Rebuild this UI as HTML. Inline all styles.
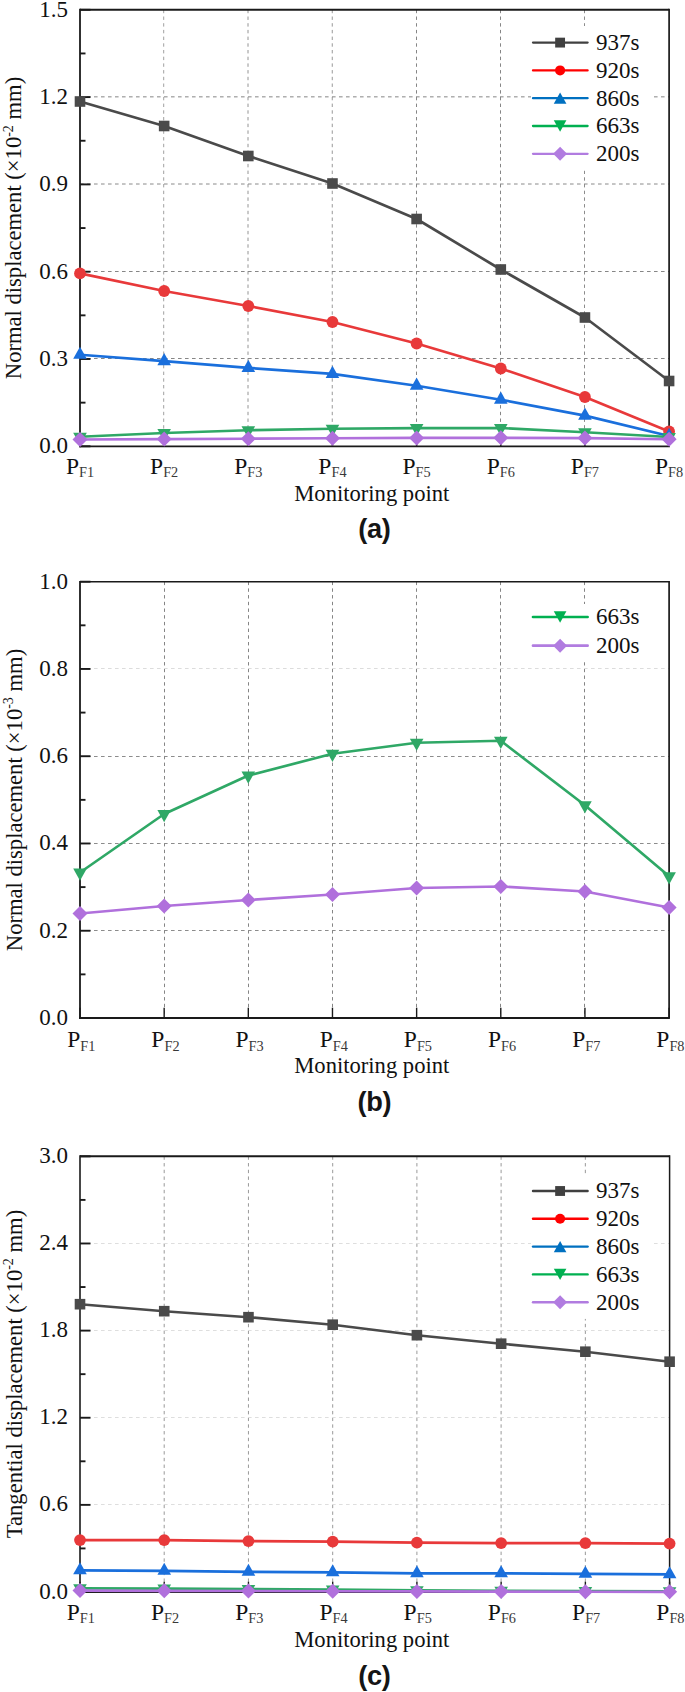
<!DOCTYPE html>
<html lang="en">
<head>
<meta charset="utf-8">
<title>Displacement at monitoring points</title>
<style>
html,body{margin:0;padding:0;background:#fff;}
body{width:685px;height:1692px;overflow:hidden;}
svg{display:block;}
.t,.p,.ti{font-family:"Liberation Serif","Times New Roman",serif;font-size:23px;fill:#111;}
.p{font-size:23.5px;}
.ti{font-size:22.6px;}
.sub{font-size:14.3px;fill:#383838;}
.sup{font-size:14px;}
.cap{font-family:"Liberation Sans",Arial,sans-serif;font-weight:bold;font-size:27.2px;fill:#151515;letter-spacing:-0.3px;}
</style>
</head>
<body>
<svg width="685" height="1692" viewBox="0 0 685 1692">
<rect width="685" height="1692" fill="#fff"/>
<line x1="163.70" y1="9.80" x2="163.70" y2="446.30" stroke="#a0a0a0" stroke-width="1" stroke-dasharray="3.4 3.3"/>
<line x1="248.00" y1="9.80" x2="248.00" y2="446.30" stroke="#949494" stroke-width="1" stroke-dasharray="3.4 3.3"/>
<line x1="332.25" y1="9.80" x2="332.25" y2="446.30" stroke="#989898" stroke-width="1" stroke-dasharray="3.4 3.3"/>
<line x1="416.50" y1="9.80" x2="416.50" y2="446.30" stroke="#868686" stroke-width="1" stroke-dasharray="3.4 3.3"/>
<line x1="500.50" y1="9.80" x2="500.50" y2="446.30" stroke="#868686" stroke-width="1" stroke-dasharray="3.4 3.3"/>
<line x1="584.50" y1="9.80" x2="584.50" y2="446.30" stroke="#8c8c8c" stroke-width="1" stroke-dasharray="3.4 3.3"/>
<line x1="80.00" y1="96.85" x2="669.10" y2="96.85" stroke="#868686" stroke-width="1" stroke-dasharray="3.6 3.4"/>
<line x1="80.00" y1="184.00" x2="669.10" y2="184.00" stroke="#8a8a8a" stroke-width="1" stroke-dasharray="3.6 3.4"/>
<line x1="80.00" y1="271.50" x2="669.10" y2="271.50" stroke="#868686" stroke-width="1" stroke-dasharray="3.6 3.4"/>
<line x1="80.00" y1="358.50" x2="669.10" y2="358.50" stroke="#868686" stroke-width="1" stroke-dasharray="3.6 3.4"/>
<path d="M80.00,9.80 H669.10" fill="none" stroke="#1a1a1a" stroke-width="2.0"/>
<path d="M669.10,8.80 V446.30" fill="none" stroke="#1a1a1a" stroke-width="1.7"/>
<path d="M80.00,8.80 V447.20" fill="none" stroke="#1a1a1a" stroke-width="1.8"/>
<path d="M79.10,446.30 H669.90" fill="none" stroke="#1a1a1a" stroke-width="1.8"/>
<line x1="80.00" y1="9.80" x2="90.50" y2="9.80" stroke="#1a1a1a" stroke-width="1.9"/>
<line x1="80.00" y1="53.45" x2="85.50" y2="53.45" stroke="#1a1a1a" stroke-width="1.9"/>
<line x1="80.00" y1="97.10" x2="90.50" y2="97.10" stroke="#1a1a1a" stroke-width="1.9"/>
<line x1="80.00" y1="140.75" x2="85.50" y2="140.75" stroke="#1a1a1a" stroke-width="1.9"/>
<line x1="80.00" y1="184.40" x2="90.50" y2="184.40" stroke="#1a1a1a" stroke-width="1.9"/>
<line x1="80.00" y1="228.05" x2="85.50" y2="228.05" stroke="#1a1a1a" stroke-width="1.9"/>
<line x1="80.00" y1="271.70" x2="90.50" y2="271.70" stroke="#1a1a1a" stroke-width="1.9"/>
<line x1="80.00" y1="315.35" x2="85.50" y2="315.35" stroke="#1a1a1a" stroke-width="1.9"/>
<line x1="80.00" y1="359.00" x2="90.50" y2="359.00" stroke="#1a1a1a" stroke-width="1.9"/>
<line x1="80.00" y1="402.65" x2="85.50" y2="402.65" stroke="#1a1a1a" stroke-width="1.9"/>
<line x1="80.00" y1="446.30" x2="90.50" y2="446.30" stroke="#1a1a1a" stroke-width="1.9"/>
<line x1="80.00" y1="446.30" x2="80.00" y2="436.00" stroke="#1a1a1a" stroke-width="1.4"/>
<line x1="164.16" y1="446.30" x2="164.16" y2="436.00" stroke="#1a1a1a" stroke-width="1.4"/>
<line x1="248.31" y1="446.30" x2="248.31" y2="436.00" stroke="#1a1a1a" stroke-width="1.4"/>
<line x1="332.47" y1="446.30" x2="332.47" y2="436.00" stroke="#1a1a1a" stroke-width="1.4"/>
<line x1="416.63" y1="446.30" x2="416.63" y2="436.00" stroke="#1a1a1a" stroke-width="1.4"/>
<line x1="500.79" y1="446.30" x2="500.79" y2="436.00" stroke="#1a1a1a" stroke-width="1.4"/>
<line x1="584.94" y1="446.30" x2="584.94" y2="436.00" stroke="#1a1a1a" stroke-width="1.4"/>
<line x1="669.10" y1="446.30" x2="669.10" y2="436.00" stroke="#1a1a1a" stroke-width="1.4"/>
<text x="68.1" y="16.60" text-anchor="end" class="t">1.5</text>
<text x="68.1" y="103.90" text-anchor="end" class="t">1.2</text>
<text x="68.1" y="191.20" text-anchor="end" class="t">0.9</text>
<text x="68.1" y="278.50" text-anchor="end" class="t">0.6</text>
<text x="68.1" y="365.80" text-anchor="end" class="t">0.3</text>
<text x="68.1" y="453.10" text-anchor="end" class="t">0.0</text>
<text x="65.90" y="473.80" class="p">P<tspan class="sub" dy="3.2">F1</tspan></text>
<text x="150.06" y="473.80" class="p">P<tspan class="sub" dy="3.2">F2</tspan></text>
<text x="234.21" y="473.80" class="p">P<tspan class="sub" dy="3.2">F3</tspan></text>
<text x="318.37" y="473.80" class="p">P<tspan class="sub" dy="3.2">F4</tspan></text>
<text x="402.53" y="473.80" class="p">P<tspan class="sub" dy="3.2">F5</tspan></text>
<text x="486.69" y="473.80" class="p">P<tspan class="sub" dy="3.2">F6</tspan></text>
<text x="570.84" y="473.80" class="p">P<tspan class="sub" dy="3.2">F7</tspan></text>
<text x="655.00" y="473.80" class="p">P<tspan class="sub" dy="3.2">F8</tspan></text>
<text x="371.8" y="500.80" text-anchor="middle" class="ti">Monitoring point</text>
<text transform="translate(21.3,228.00) rotate(-90)" text-anchor="middle" class="ti">Normal displacement (×10<tspan class="sup" dy="-8.8">-2</tspan><tspan dy="8.8"> mm)</tspan></text>
<polyline points="80.00,101.50 164.16,126.00 248.31,156.00 332.47,183.50 416.63,219.00 500.79,269.50 584.94,317.50 669.10,381.00" fill="none" stroke="#4a4a4a" stroke-width="2.65" stroke-linejoin="round"/>
<rect x="74.70" y="96.20" width="10.60" height="10.60" fill="#4a4a4a"/>
<rect x="158.86" y="120.70" width="10.60" height="10.60" fill="#4a4a4a"/>
<rect x="243.01" y="150.70" width="10.60" height="10.60" fill="#4a4a4a"/>
<rect x="327.17" y="178.20" width="10.60" height="10.60" fill="#4a4a4a"/>
<rect x="411.33" y="213.70" width="10.60" height="10.60" fill="#4a4a4a"/>
<rect x="495.49" y="264.20" width="10.60" height="10.60" fill="#4a4a4a"/>
<rect x="579.64" y="312.20" width="10.60" height="10.60" fill="#4a4a4a"/>
<rect x="663.80" y="375.70" width="10.60" height="10.60" fill="#4a4a4a"/>
<polyline points="80.00,273.40 164.16,291.00 248.31,306.00 332.47,322.00 416.63,343.50 500.79,368.50 584.94,397.00 669.10,431.50" fill="none" stroke="#e8393a" stroke-width="2.65" stroke-linejoin="round"/>
<circle cx="80.00" cy="273.40" r="5.90" fill="#e8393a"/>
<circle cx="164.16" cy="291.00" r="5.90" fill="#e8393a"/>
<circle cx="248.31" cy="306.00" r="5.90" fill="#e8393a"/>
<circle cx="332.47" cy="322.00" r="5.90" fill="#e8393a"/>
<circle cx="416.63" cy="343.50" r="5.90" fill="#e8393a"/>
<circle cx="500.79" cy="368.50" r="5.90" fill="#e8393a"/>
<circle cx="584.94" cy="397.00" r="5.90" fill="#e8393a"/>
<circle cx="669.10" cy="431.50" r="5.90" fill="#e8393a"/>
<polyline points="80.00,354.80 164.16,361.10 248.31,367.90 332.47,373.90 416.63,385.70 500.79,399.70 584.94,415.60 669.10,436.00" fill="none" stroke="#1a6fdc" stroke-width="2.65" stroke-linejoin="round"/>
<polygon points="80.00,346.67 86.80,358.87 73.20,358.87" fill="#1a6fdc"/>
<polygon points="164.16,352.97 170.96,365.17 157.36,365.17" fill="#1a6fdc"/>
<polygon points="248.31,359.77 255.11,371.97 241.51,371.97" fill="#1a6fdc"/>
<polygon points="332.47,365.77 339.27,377.97 325.67,377.97" fill="#1a6fdc"/>
<polygon points="416.63,377.57 423.43,389.77 409.83,389.77" fill="#1a6fdc"/>
<polygon points="500.79,391.57 507.59,403.77 493.99,403.77" fill="#1a6fdc"/>
<polygon points="584.94,407.47 591.74,419.67 578.14,419.67" fill="#1a6fdc"/>
<polygon points="669.10,427.87 675.90,440.07 662.30,440.07" fill="#1a6fdc"/>
<polyline points="80.00,436.80 164.16,433.00 248.31,430.30 332.47,428.80 416.63,428.10 500.79,428.00 584.94,432.30 669.10,437.00" fill="none" stroke="#2fa866" stroke-width="2.65" stroke-linejoin="round"/>
<polygon points="80.00,444.93 86.80,432.73 73.20,432.73" fill="#2fa866"/>
<polygon points="164.16,441.13 170.96,428.93 157.36,428.93" fill="#2fa866"/>
<polygon points="248.31,438.43 255.11,426.23 241.51,426.23" fill="#2fa866"/>
<polygon points="332.47,436.93 339.27,424.73 325.67,424.73" fill="#2fa866"/>
<polygon points="416.63,436.23 423.43,424.03 409.83,424.03" fill="#2fa866"/>
<polygon points="500.79,436.13 507.59,423.93 493.99,423.93" fill="#2fa866"/>
<polygon points="584.94,440.43 591.74,428.23 578.14,428.23" fill="#2fa866"/>
<polygon points="669.10,445.13 675.90,432.93 662.30,432.93" fill="#2fa866"/>
<polyline points="80.00,439.50 164.16,439.10 248.31,438.70 332.47,438.30 416.63,437.90 500.79,437.80 584.94,438.10 669.10,439.20" fill="none" stroke="#b070dc" stroke-width="2.65" stroke-linejoin="round"/>
<polygon points="80.00,432.00 87.50,439.50 80.00,447.00 72.50,439.50" fill="#b070dc"/>
<polygon points="164.16,431.60 171.66,439.10 164.16,446.60 156.66,439.10" fill="#b070dc"/>
<polygon points="248.31,431.20 255.81,438.70 248.31,446.20 240.81,438.70" fill="#b070dc"/>
<polygon points="332.47,430.80 339.97,438.30 332.47,445.80 324.97,438.30" fill="#b070dc"/>
<polygon points="416.63,430.40 424.13,437.90 416.63,445.40 409.13,437.90" fill="#b070dc"/>
<polygon points="500.79,430.30 508.29,437.80 500.79,445.30 493.29,437.80" fill="#b070dc"/>
<polygon points="584.94,430.60 592.44,438.10 584.94,445.60 577.44,438.10" fill="#b070dc"/>
<polygon points="669.10,431.70 676.60,439.20 669.10,446.70 661.60,439.20" fill="#b070dc"/>
<rect x="531" y="26.00" width="120" height="144.50" fill="#fff"/>
<line x1="533" y1="42.60" x2="587.6" y2="42.60" stroke="#404040" stroke-width="2.3" stroke-linecap="round"/>
<rect x="555.17" y="37.67" width="9.86" height="9.86" fill="#404040"/>
<text x="595.9" y="49.90" class="t">937s</text>
<line x1="533" y1="70.40" x2="587.6" y2="70.40" stroke="#ff0000" stroke-width="2.3" stroke-linecap="round"/>
<circle cx="560.10" cy="70.40" r="5.02" fill="#ff0000"/>
<text x="595.9" y="77.70" class="t">920s</text>
<line x1="533" y1="98.20" x2="587.6" y2="98.20" stroke="#0070c0" stroke-width="2.3" stroke-linecap="round"/>
<polygon points="560.10,92.53 566.42,103.87 553.78,103.87" fill="#0070c0"/>
<text x="595.9" y="105.50" class="t">860s</text>
<line x1="533" y1="126.00" x2="587.6" y2="126.00" stroke="#00b050" stroke-width="2.3" stroke-linecap="round"/>
<polygon points="560.10,131.67 566.42,120.33 553.78,120.33" fill="#00b050"/>
<text x="595.9" y="133.30" class="t">663s</text>
<line x1="533" y1="153.80" x2="587.6" y2="153.80" stroke="#b17ce0" stroke-width="2.3" stroke-linecap="round"/>
<polygon points="560.10,146.83 567.08,153.80 560.10,160.78 553.12,153.80" fill="#b17ce0"/>
<text x="595.9" y="161.10" class="t">200s</text>
<text x="374.4" y="537.90" text-anchor="middle" class="cap">(a)</text>
<line x1="164.50" y1="581.70" x2="164.50" y2="1018.00" stroke="#858585" stroke-width="1" stroke-dasharray="3.4 3.3"/>
<line x1="248.50" y1="581.70" x2="248.50" y2="1018.00" stroke="#858585" stroke-width="1" stroke-dasharray="3.4 3.3"/>
<line x1="332.50" y1="581.70" x2="332.50" y2="1018.00" stroke="#858585" stroke-width="1" stroke-dasharray="3.4 3.3"/>
<line x1="416.50" y1="581.70" x2="416.50" y2="1018.00" stroke="#858585" stroke-width="1" stroke-dasharray="3.4 3.3"/>
<line x1="500.50" y1="581.70" x2="500.50" y2="1018.00" stroke="#858585" stroke-width="1" stroke-dasharray="3.4 3.3"/>
<line x1="584.50" y1="581.70" x2="584.50" y2="1018.00" stroke="#858585" stroke-width="1" stroke-dasharray="3.4 3.3"/>
<line x1="80.00" y1="668.50" x2="669.10" y2="668.50" stroke="#dcdcdc" stroke-width="1" stroke-dasharray="3.6 3.4"/>
<line x1="80.00" y1="756.50" x2="669.10" y2="756.50" stroke="#8c8c8c" stroke-width="1" stroke-dasharray="3.6 3.4"/>
<line x1="80.00" y1="843.50" x2="669.10" y2="843.50" stroke="#8c8c8c" stroke-width="1" stroke-dasharray="3.6 3.4"/>
<line x1="80.00" y1="930.50" x2="669.10" y2="930.50" stroke="#8c8c8c" stroke-width="1" stroke-dasharray="3.6 3.4"/>
<path d="M80.00,581.70 H669.10" fill="none" stroke="#1a1a1a" stroke-width="1.5"/>
<path d="M669.10,580.95 V1018.00" fill="none" stroke="#1a1a1a" stroke-width="1.7"/>
<path d="M80.00,580.95 V1018.90" fill="none" stroke="#1a1a1a" stroke-width="1.8"/>
<path d="M79.10,1018.00 H669.90" fill="none" stroke="#1a1a1a" stroke-width="1.8"/>
<line x1="80.00" y1="581.70" x2="90.50" y2="581.70" stroke="#1a1a1a" stroke-width="1.9"/>
<line x1="80.00" y1="625.33" x2="85.50" y2="625.33" stroke="#1a1a1a" stroke-width="1.9"/>
<line x1="80.00" y1="668.96" x2="90.50" y2="668.96" stroke="#1a1a1a" stroke-width="1.9"/>
<line x1="80.00" y1="712.59" x2="85.50" y2="712.59" stroke="#1a1a1a" stroke-width="1.9"/>
<line x1="80.00" y1="756.22" x2="90.50" y2="756.22" stroke="#1a1a1a" stroke-width="1.9"/>
<line x1="80.00" y1="799.85" x2="85.50" y2="799.85" stroke="#1a1a1a" stroke-width="1.9"/>
<line x1="80.00" y1="843.48" x2="90.50" y2="843.48" stroke="#1a1a1a" stroke-width="1.9"/>
<line x1="80.00" y1="887.11" x2="85.50" y2="887.11" stroke="#1a1a1a" stroke-width="1.9"/>
<line x1="80.00" y1="930.74" x2="90.50" y2="930.74" stroke="#1a1a1a" stroke-width="1.9"/>
<line x1="80.00" y1="974.37" x2="85.50" y2="974.37" stroke="#1a1a1a" stroke-width="1.9"/>
<line x1="80.00" y1="1018.00" x2="90.50" y2="1018.00" stroke="#1a1a1a" stroke-width="1.9"/>
<line x1="80.00" y1="1018.00" x2="80.00" y2="1007.70" stroke="#1a1a1a" stroke-width="1.4"/>
<line x1="164.16" y1="1018.00" x2="164.16" y2="1007.70" stroke="#1a1a1a" stroke-width="1.4"/>
<line x1="248.31" y1="1018.00" x2="248.31" y2="1007.70" stroke="#1a1a1a" stroke-width="1.4"/>
<line x1="332.47" y1="1018.00" x2="332.47" y2="1007.70" stroke="#1a1a1a" stroke-width="1.4"/>
<line x1="416.63" y1="1018.00" x2="416.63" y2="1007.70" stroke="#1a1a1a" stroke-width="1.4"/>
<line x1="500.79" y1="1018.00" x2="500.79" y2="1007.70" stroke="#1a1a1a" stroke-width="1.4"/>
<line x1="584.94" y1="1018.00" x2="584.94" y2="1007.70" stroke="#1a1a1a" stroke-width="1.4"/>
<line x1="669.10" y1="1018.00" x2="669.10" y2="1007.70" stroke="#1a1a1a" stroke-width="1.4"/>
<text x="68.1" y="588.50" text-anchor="end" class="t">1.0</text>
<text x="68.1" y="675.76" text-anchor="end" class="t">0.8</text>
<text x="68.1" y="763.02" text-anchor="end" class="t">0.6</text>
<text x="68.1" y="850.28" text-anchor="end" class="t">0.4</text>
<text x="68.1" y="937.54" text-anchor="end" class="t">0.2</text>
<text x="68.1" y="1024.80" text-anchor="end" class="t">0.0</text>
<text x="67.20" y="1047.30" class="p">P<tspan class="sub" dy="3.2">F1</tspan></text>
<text x="151.36" y="1047.30" class="p">P<tspan class="sub" dy="3.2">F2</tspan></text>
<text x="235.51" y="1047.30" class="p">P<tspan class="sub" dy="3.2">F3</tspan></text>
<text x="319.67" y="1047.30" class="p">P<tspan class="sub" dy="3.2">F4</tspan></text>
<text x="403.83" y="1047.30" class="p">P<tspan class="sub" dy="3.2">F5</tspan></text>
<text x="487.99" y="1047.30" class="p">P<tspan class="sub" dy="3.2">F6</tspan></text>
<text x="572.14" y="1047.30" class="p">P<tspan class="sub" dy="3.2">F7</tspan></text>
<text x="656.30" y="1047.30" class="p">P<tspan class="sub" dy="3.2">F8</tspan></text>
<text x="371.8" y="1073.10" text-anchor="middle" class="ti">Monitoring point</text>
<text transform="translate(21.7,800.00) rotate(-90)" text-anchor="middle" class="ti">Normal displacement (×10<tspan class="sup" dy="-8.8">-3</tspan><tspan dy="8.8"> mm)</tspan></text>
<polyline points="80.00,872.50 164.16,814.00 248.31,775.50 332.47,753.80 416.63,742.70 500.79,740.80 584.94,805.30 669.10,876.30" fill="none" stroke="#2fa866" stroke-width="2.65" stroke-linejoin="round"/>
<polygon points="80.00,880.63 86.80,868.43 73.20,868.43" fill="#2fa866"/>
<polygon points="164.16,822.13 170.96,809.93 157.36,809.93" fill="#2fa866"/>
<polygon points="248.31,783.63 255.11,771.43 241.51,771.43" fill="#2fa866"/>
<polygon points="332.47,761.93 339.27,749.73 325.67,749.73" fill="#2fa866"/>
<polygon points="416.63,750.83 423.43,738.63 409.83,738.63" fill="#2fa866"/>
<polygon points="500.79,748.93 507.59,736.73 493.99,736.73" fill="#2fa866"/>
<polygon points="584.94,813.43 591.74,801.23 578.14,801.23" fill="#2fa866"/>
<polygon points="669.10,884.43 675.90,872.23 662.30,872.23" fill="#2fa866"/>
<polyline points="80.00,913.50 164.16,906.00 248.31,900.00 332.47,894.50 416.63,888.00 500.79,886.50 584.94,891.50 669.10,907.50" fill="none" stroke="#b070dc" stroke-width="2.65" stroke-linejoin="round"/>
<polygon points="80.00,906.00 87.50,913.50 80.00,921.00 72.50,913.50" fill="#b070dc"/>
<polygon points="164.16,898.50 171.66,906.00 164.16,913.50 156.66,906.00" fill="#b070dc"/>
<polygon points="248.31,892.50 255.81,900.00 248.31,907.50 240.81,900.00" fill="#b070dc"/>
<polygon points="332.47,887.00 339.97,894.50 332.47,902.00 324.97,894.50" fill="#b070dc"/>
<polygon points="416.63,880.50 424.13,888.00 416.63,895.50 409.13,888.00" fill="#b070dc"/>
<polygon points="500.79,879.00 508.29,886.50 500.79,894.00 493.29,886.50" fill="#b070dc"/>
<polygon points="584.94,884.00 592.44,891.50 584.94,899.00 577.44,891.50" fill="#b070dc"/>
<polygon points="669.10,900.00 676.60,907.50 669.10,915.00 661.60,907.50" fill="#b070dc"/>
<rect x="531" y="604.00" width="120" height="58.20" fill="#fff"/>
<line x1="533" y1="617.00" x2="587.6" y2="617.00" stroke="#00b050" stroke-width="2.7" stroke-linecap="round"/>
<polygon points="560.10,622.67 566.42,611.33 553.78,611.33" fill="#00b050"/>
<text x="595.9" y="624.30" class="t">663s</text>
<line x1="533" y1="645.70" x2="587.6" y2="645.70" stroke="#b17ce0" stroke-width="2.7" stroke-linecap="round"/>
<polygon points="560.10,638.73 567.08,645.70 560.10,652.68 553.12,645.70" fill="#b17ce0"/>
<text x="595.9" y="653.00" class="t">200s</text>
<text x="374.4" y="1111.20" text-anchor="middle" class="cap">(b)</text>
<line x1="164.20" y1="1156.35" x2="164.20" y2="1592.00" stroke="#999999" stroke-width="1" stroke-dasharray="3.4 3.3"/>
<line x1="248.45" y1="1156.35" x2="248.45" y2="1592.00" stroke="#999999" stroke-width="1" stroke-dasharray="3.4 3.3"/>
<line x1="332.70" y1="1156.35" x2="332.70" y2="1592.00" stroke="#999999" stroke-width="1" stroke-dasharray="3.4 3.3"/>
<line x1="416.90" y1="1156.35" x2="416.90" y2="1592.00" stroke="#999999" stroke-width="1" stroke-dasharray="3.4 3.3"/>
<line x1="501.10" y1="1156.35" x2="501.10" y2="1592.00" stroke="#999999" stroke-width="1" stroke-dasharray="3.4 3.3"/>
<line x1="585.35" y1="1156.35" x2="585.35" y2="1592.00" stroke="#999999" stroke-width="1" stroke-dasharray="3.4 3.3"/>
<line x1="80.00" y1="1243.50" x2="669.10" y2="1243.50" stroke="#dedede" stroke-width="1" stroke-dasharray="3.6 3.4"/>
<line x1="80.00" y1="1330.50" x2="669.10" y2="1330.50" stroke="#dedede" stroke-width="1" stroke-dasharray="3.6 3.4"/>
<line x1="80.00" y1="1417.50" x2="669.10" y2="1417.50" stroke="#dedede" stroke-width="1" stroke-dasharray="3.6 3.4"/>
<line x1="80.00" y1="1504.50" x2="669.10" y2="1504.50" stroke="#dedede" stroke-width="1" stroke-dasharray="3.6 3.4"/>
<path d="M80.00,1156.35 H669.60" fill="none" stroke="#1a1a1a" stroke-width="2.0"/>
<path d="M669.60,1155.35 V1592.00" fill="none" stroke="#1a1a1a" stroke-width="1.5"/>
<path d="M80.00,1155.35 V1592.90" fill="none" stroke="#1a1a1a" stroke-width="1.6"/>
<path d="M79.20,1592.00 H670.40" fill="none" stroke="#1a1a1a" stroke-width="1.8"/>
<line x1="80.00" y1="1156.35" x2="90.50" y2="1156.35" stroke="#1a1a1a" stroke-width="1.9"/>
<line x1="80.00" y1="1199.91" x2="85.50" y2="1199.91" stroke="#1a1a1a" stroke-width="1.9"/>
<line x1="80.00" y1="1243.48" x2="90.50" y2="1243.48" stroke="#1a1a1a" stroke-width="1.9"/>
<line x1="80.00" y1="1287.04" x2="85.50" y2="1287.04" stroke="#1a1a1a" stroke-width="1.9"/>
<line x1="80.00" y1="1330.61" x2="90.50" y2="1330.61" stroke="#1a1a1a" stroke-width="1.9"/>
<line x1="80.00" y1="1374.17" x2="85.50" y2="1374.17" stroke="#1a1a1a" stroke-width="1.9"/>
<line x1="80.00" y1="1417.74" x2="90.50" y2="1417.74" stroke="#1a1a1a" stroke-width="1.9"/>
<line x1="80.00" y1="1461.30" x2="85.50" y2="1461.30" stroke="#1a1a1a" stroke-width="1.9"/>
<line x1="80.00" y1="1504.87" x2="90.50" y2="1504.87" stroke="#1a1a1a" stroke-width="1.9"/>
<line x1="80.00" y1="1548.43" x2="85.50" y2="1548.43" stroke="#1a1a1a" stroke-width="1.9"/>
<line x1="80.00" y1="1592.00" x2="90.50" y2="1592.00" stroke="#1a1a1a" stroke-width="1.9"/>
<line x1="80.00" y1="1592.00" x2="80.00" y2="1581.70" stroke="#1a1a1a" stroke-width="1.4"/>
<line x1="164.23" y1="1592.00" x2="164.23" y2="1581.70" stroke="#1a1a1a" stroke-width="1.4"/>
<line x1="248.46" y1="1592.00" x2="248.46" y2="1581.70" stroke="#1a1a1a" stroke-width="1.4"/>
<line x1="332.69" y1="1592.00" x2="332.69" y2="1581.70" stroke="#1a1a1a" stroke-width="1.4"/>
<line x1="416.91" y1="1592.00" x2="416.91" y2="1581.70" stroke="#1a1a1a" stroke-width="1.4"/>
<line x1="501.14" y1="1592.00" x2="501.14" y2="1581.70" stroke="#1a1a1a" stroke-width="1.4"/>
<line x1="585.37" y1="1592.00" x2="585.37" y2="1581.70" stroke="#1a1a1a" stroke-width="1.4"/>
<line x1="669.60" y1="1592.00" x2="669.60" y2="1581.70" stroke="#1a1a1a" stroke-width="1.4"/>
<text x="68.1" y="1162.85" text-anchor="end" class="t">3.0</text>
<text x="68.1" y="1249.98" text-anchor="end" class="t">2.4</text>
<text x="68.1" y="1337.11" text-anchor="end" class="t">1.8</text>
<text x="68.1" y="1424.24" text-anchor="end" class="t">1.2</text>
<text x="68.1" y="1511.37" text-anchor="end" class="t">0.6</text>
<text x="68.1" y="1598.50" text-anchor="end" class="t">0.0</text>
<text x="66.70" y="1619.90" class="p">P<tspan class="sub" dy="3.2">F1</tspan></text>
<text x="150.93" y="1619.90" class="p">P<tspan class="sub" dy="3.2">F2</tspan></text>
<text x="235.16" y="1619.90" class="p">P<tspan class="sub" dy="3.2">F3</tspan></text>
<text x="319.39" y="1619.90" class="p">P<tspan class="sub" dy="3.2">F4</tspan></text>
<text x="403.61" y="1619.90" class="p">P<tspan class="sub" dy="3.2">F5</tspan></text>
<text x="487.84" y="1619.90" class="p">P<tspan class="sub" dy="3.2">F6</tspan></text>
<text x="572.07" y="1619.90" class="p">P<tspan class="sub" dy="3.2">F7</tspan></text>
<text x="656.30" y="1619.90" class="p">P<tspan class="sub" dy="3.2">F8</tspan></text>
<text x="371.8" y="1647.40" text-anchor="middle" class="ti">Monitoring point</text>
<text transform="translate(22.2,1374.00) rotate(-90)" text-anchor="middle" class="ti">Tangential displacement (×10<tspan class="sup" dy="-8.8">-2</tspan><tspan dy="8.8"> mm)</tspan></text>
<polyline points="80.00,1304.20 164.23,1311.20 248.46,1317.20 332.69,1324.70 416.91,1335.20 501.14,1343.70 585.37,1351.70 669.60,1361.70" fill="none" stroke="#4a4a4a" stroke-width="2.65" stroke-linejoin="round"/>
<rect x="74.70" y="1298.90" width="10.60" height="10.60" fill="#4a4a4a"/>
<rect x="158.93" y="1305.90" width="10.60" height="10.60" fill="#4a4a4a"/>
<rect x="243.16" y="1311.90" width="10.60" height="10.60" fill="#4a4a4a"/>
<rect x="327.39" y="1319.40" width="10.60" height="10.60" fill="#4a4a4a"/>
<rect x="411.61" y="1329.90" width="10.60" height="10.60" fill="#4a4a4a"/>
<rect x="495.84" y="1338.40" width="10.60" height="10.60" fill="#4a4a4a"/>
<rect x="580.07" y="1346.40" width="10.60" height="10.60" fill="#4a4a4a"/>
<rect x="664.30" y="1356.40" width="10.60" height="10.60" fill="#4a4a4a"/>
<polyline points="80.00,1540.10 164.23,1540.10 248.46,1541.10 332.69,1541.60 416.91,1542.60 501.14,1543.10 585.37,1543.10 669.60,1543.60" fill="none" stroke="#e8393a" stroke-width="2.65" stroke-linejoin="round"/>
<circle cx="80.00" cy="1540.10" r="5.90" fill="#e8393a"/>
<circle cx="164.23" cy="1540.10" r="5.90" fill="#e8393a"/>
<circle cx="248.46" cy="1541.10" r="5.90" fill="#e8393a"/>
<circle cx="332.69" cy="1541.60" r="5.90" fill="#e8393a"/>
<circle cx="416.91" cy="1542.60" r="5.90" fill="#e8393a"/>
<circle cx="501.14" cy="1543.10" r="5.90" fill="#e8393a"/>
<circle cx="585.37" cy="1543.10" r="5.90" fill="#e8393a"/>
<circle cx="669.60" cy="1543.60" r="5.90" fill="#e8393a"/>
<polyline points="80.00,1570.30 164.23,1570.80 248.46,1571.80 332.69,1572.30 416.91,1573.30 501.14,1573.30 585.37,1573.80 669.60,1574.30" fill="none" stroke="#1a6fdc" stroke-width="2.65" stroke-linejoin="round"/>
<polygon points="80.00,1562.17 86.80,1574.37 73.20,1574.37" fill="#1a6fdc"/>
<polygon points="164.23,1562.67 171.03,1574.87 157.43,1574.87" fill="#1a6fdc"/>
<polygon points="248.46,1563.67 255.26,1575.87 241.66,1575.87" fill="#1a6fdc"/>
<polygon points="332.69,1564.17 339.49,1576.37 325.89,1576.37" fill="#1a6fdc"/>
<polygon points="416.91,1565.17 423.71,1577.37 410.11,1577.37" fill="#1a6fdc"/>
<polygon points="501.14,1565.17 507.94,1577.37 494.34,1577.37" fill="#1a6fdc"/>
<polygon points="585.37,1565.67 592.17,1577.87 578.57,1577.87" fill="#1a6fdc"/>
<polygon points="669.60,1566.17 676.40,1578.37 662.80,1578.37" fill="#1a6fdc"/>
<polyline points="80.00,1588.40 164.23,1588.60 248.46,1589.00 332.69,1589.60 416.91,1590.20 501.14,1590.70 585.37,1591.00 669.60,1591.20" fill="none" stroke="#2fa866" stroke-width="2.65" stroke-linejoin="round"/>
<polygon points="80.00,1596.53 86.80,1584.33 73.20,1584.33" fill="#2fa866"/>
<polygon points="164.23,1596.73 171.03,1584.53 157.43,1584.53" fill="#2fa866"/>
<polygon points="248.46,1597.13 255.26,1584.93 241.66,1584.93" fill="#2fa866"/>
<polygon points="332.69,1597.73 339.49,1585.53 325.89,1585.53" fill="#2fa866"/>
<polygon points="416.91,1598.33 423.71,1586.13 410.11,1586.13" fill="#2fa866"/>
<polygon points="501.14,1598.83 507.94,1586.63 494.34,1586.63" fill="#2fa866"/>
<polygon points="585.37,1599.13 592.17,1586.93 578.57,1586.93" fill="#2fa866"/>
<polygon points="669.60,1599.33 676.40,1587.13 662.80,1587.13" fill="#2fa866"/>
<polyline points="80.00,1590.60 164.23,1590.80 248.46,1591.00 332.69,1591.20 416.91,1591.40 501.14,1591.60 585.37,1591.70 669.60,1591.80" fill="none" stroke="#b070dc" stroke-width="2.65" stroke-linejoin="round"/>
<polygon points="80.00,1583.10 87.50,1590.60 80.00,1598.10 72.50,1590.60" fill="#b070dc"/>
<polygon points="164.23,1583.30 171.73,1590.80 164.23,1598.30 156.73,1590.80" fill="#b070dc"/>
<polygon points="248.46,1583.50 255.96,1591.00 248.46,1598.50 240.96,1591.00" fill="#b070dc"/>
<polygon points="332.69,1583.70 340.19,1591.20 332.69,1598.70 325.19,1591.20" fill="#b070dc"/>
<polygon points="416.91,1583.90 424.41,1591.40 416.91,1598.90 409.41,1591.40" fill="#b070dc"/>
<polygon points="501.14,1584.10 508.64,1591.60 501.14,1599.10 493.64,1591.60" fill="#b070dc"/>
<polygon points="585.37,1584.20 592.87,1591.70 585.37,1599.20 577.87,1591.70" fill="#b070dc"/>
<polygon points="669.60,1584.30 677.10,1591.80 669.60,1599.30 662.10,1591.80" fill="#b070dc"/>
<rect x="531" y="1174.40" width="120" height="144.50" fill="#fff"/>
<line x1="533" y1="1191.00" x2="587.6" y2="1191.00" stroke="#404040" stroke-width="2.4" stroke-linecap="round"/>
<rect x="555.17" y="1186.07" width="9.86" height="9.86" fill="#404040"/>
<text x="595.9" y="1198.30" class="t">937s</text>
<line x1="533" y1="1218.80" x2="587.6" y2="1218.80" stroke="#ff0000" stroke-width="2.4" stroke-linecap="round"/>
<circle cx="560.10" cy="1218.80" r="5.02" fill="#ff0000"/>
<text x="595.9" y="1226.10" class="t">920s</text>
<line x1="533" y1="1246.60" x2="587.6" y2="1246.60" stroke="#0070c0" stroke-width="2.4" stroke-linecap="round"/>
<polygon points="560.10,1240.93 566.42,1252.27 553.78,1252.27" fill="#0070c0"/>
<text x="595.9" y="1253.90" class="t">860s</text>
<line x1="533" y1="1274.40" x2="587.6" y2="1274.40" stroke="#00b050" stroke-width="2.4" stroke-linecap="round"/>
<polygon points="560.10,1280.07 566.42,1268.73 553.78,1268.73" fill="#00b050"/>
<text x="595.9" y="1281.70" class="t">663s</text>
<line x1="533" y1="1302.20" x2="587.6" y2="1302.20" stroke="#b17ce0" stroke-width="2.4" stroke-linecap="round"/>
<polygon points="560.10,1295.23 567.08,1302.20 560.10,1309.17 553.12,1302.20" fill="#b17ce0"/>
<text x="595.9" y="1309.50" class="t">200s</text>
<text x="374.4" y="1684.60" text-anchor="middle" class="cap">(c)</text>
</svg>
</body>
</html>
